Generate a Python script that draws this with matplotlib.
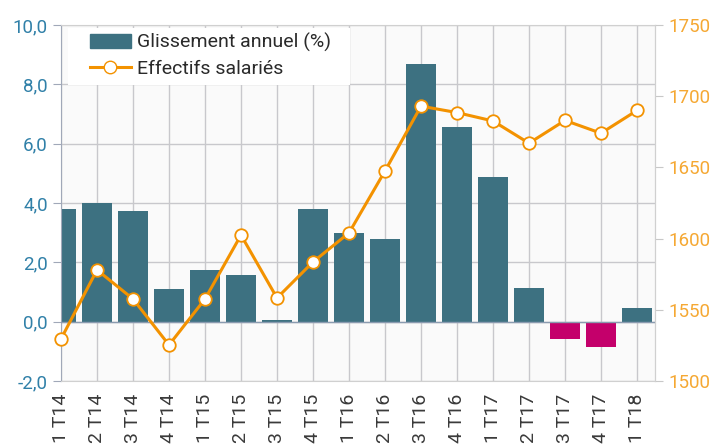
import matplotlib.pyplot as plt
import numpy as np
from matplotlib.patches import Patch, Rectangle
from matplotlib.lines import Line2D

plt.rcParams['font.family'] = ['Roboto', 'DejaVu Sans']

quarters = ['1 T14', '2 T14', '3 T14', '4 T14', '1 T15', '2 T15', '3 T15', '4 T15',
            '1 T16', '2 T16', '3 T16', '4 T16', '1 T17', '2 T17', '3 T17', '4 T17', '1 T18']
glissement = [3.8, 4.0, 3.72, 1.1, 1.75, 1.58, 0.05, 3.8,
              3.0, 2.8, 8.68, 6.56, 4.88, 1.13, -0.6, -0.84, 0.45]
effectifs = [1529.5, 1578, 1557.6, 1525.3, 1557.6, 1602.5, 1558.3, 1583.6,
             1604, 1647.5, 1693, 1688.5, 1682.6, 1667, 1683, 1674, 1690]

blue = '#3d7181'
pink = '#c4006b'
orange = '#f39200'
grid = '#c8c8cc'

x = np.arange(len(quarters))
bar_colors = [blue if v >= 0 else pink for v in glissement]

fig = plt.figure(figsize=(7.21, 4.44), dpi=100)
ax = fig.add_axes([61/721, 63/444, (655-61)/721, (381-25)/444])
ax.set_facecolor('#fafafa')

ax.bar(x, glissement, width=0.81, color=bar_colors, zorder=2)
ax.axhline(0, color='#8a9bb0', lw=1, zorder=3)
ax.set_xlim(0, 16.5)
ax.set_ylim(-2, 10)
ax.set_yticks(np.arange(-2, 10.1, 2))
ax.set_yticklabels([f'{v:.1f}'.replace('.', ',') for v in np.arange(-2, 10.1, 2)])
ax.set_xticks(x)
ax.set_xticklabels(quarters, rotation=90)
ax.grid(True, color=grid, lw=1, zorder=0)
ax.set_axisbelow(True)
ax.tick_params(axis='y', colors='#a0a8b8', labelcolor='#3080a8', labelsize=13.5, length=6)
ax.tick_params(axis='x', length=0, labelsize=14, labelcolor='#3a3a3a', pad=9)
for s in ['top', 'bottom', 'right']:
    ax.spines[s].set_color('#d0d0d0')
ax.spines['left'].set_color('#a0a8b8')

ax2 = ax.twinx()
ax2.plot(x, effectifs, color=orange, lw=2.2, marker='o', ms=9,
         mfc='white', mec=orange, mew=1.3, zorder=4, clip_on=False)
ax2.set_ylim(1500, 1750)
ax2.set_yticks(np.arange(1500, 1751, 50))
ax2.tick_params(axis='y', colors='#c8c8c8', labelcolor='#f5a833', labelsize=13.5, length=6)
for s in ['top', 'bottom', 'left']:
    ax2.spines[s].set_visible(False)
ax2.spines['right'].set_color('#d0d0d0')

# white box behind the legend
ax2.add_patch(Rectangle((7/594, (381-85)/356), 282/594, 57/356,
                        transform=ax2.transAxes, facecolor='white',
                        edgecolor='none', zorder=3))

handles = [Patch(color=blue, label='Glissement annuel (%)'),
           Line2D([], [], color=orange, lw=2.2, marker='o', ms=9, mfc='white',
                  mec=orange, label='Effectifs salariés')]
leg = ax2.legend(handles=handles, loc='upper left', bbox_to_anchor=(29/594, 0.978),
                 frameon=False, prop={'size': 14},
                 handlelength=2.1, handletextpad=0.3, borderpad=0,
                 labelspacing=0.4, borderaxespad=0)
for t in leg.get_texts():
    t.set_color('#2a2a2a')

fig.savefig('out.png', dpi=100)
